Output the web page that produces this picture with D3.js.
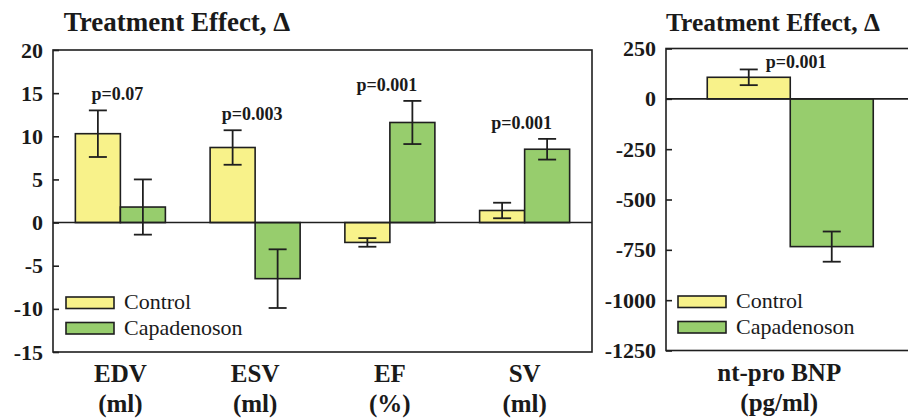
<!DOCTYPE html>
<html>
<head>
<meta charset="utf-8">
<script src="https://cdn.jsdelivr.net/npm/d3@7"></script>
<style>
  body { margin: 0; background: #fff; }
  svg { display: block; }
  text { font-family: "Liberation Serif", "Times New Roman", Times, serif; fill: #1a1a1a; }
</style>
</head>
<body>
<svg width="908" height="418"></svg>
<script>
// left panel: echo measures
const categories = ["EDV", "ESV", "EF", "SV"];
const units = ["(ml)", "(ml)", "(%)", "(ml)"];
const controlMean = [10.3, 8.7, -2.3, 1.4];
const controlErr = [2.7, 2.0, 0.5, 0.9];
const capaMean = [1.8, -6.5, 11.6, 8.5];
const capaErr = [3.2, 3.4, 2.5, 1.2];
const pLabels = ["p=0.07", "p=0.003", "p=0.001", "p=0.001"];
const leftTicks = [20, 15, 10, 5, 0, -5, -10, -15];

// right panel: nt-pro BNP
const bnpCategories = ["nt-pro BNP"];
const bnpUnits = ["(pg/ml)"];
const bnpControlMean = [107];
const bnpControlErr = [39];
const bnpCapaMean = [-734];
const bnpCapaErr = [75];
const bnpPLabels = ["p=0.001"];
const rightTicks = [250, 0, -250, -500, -750, -1000, -1250];

const groups = ["Control", "Capadenoson"];
const colors = {Control: "#f8f28a", Capadenoson: "#97cd6d"};
const ink = "#1f1f1f";

const svg = d3.select("svg");

function panel(opt) {
  const g = svg.append("g");
  const x = d3.scaleBand().domain(opt.cats).range(opt.xRange)
      .paddingInner(0.332).paddingOuter(0.166);
  const x1 = d3.scaleBand().domain(groups).range([0, x.bandwidth()]);
  const y = d3.scaleLinear().domain(opt.yDomain).range(opt.yRange);

  const rows = [];
  opt.cats.forEach((c, i) => {
    rows.push({cat: c, grp: "Control", v: opt.ctrl[i], e: opt.ctrlErr[i]});
    rows.push({cat: c, grp: "Capadenoson", v: opt.capa[i], e: opt.capaErr[i]});
  });

  // box
  g.append("rect")
    .attr("x", opt.xRange[0]).attr("y", opt.yRange[1])
    .attr("width", opt.xRange[1] - opt.xRange[0])
    .attr("height", opt.yRange[0] - opt.yRange[1])
    .attr("fill", "none").attr("stroke", ink).attr("stroke-width", 1.6);

  // bars
  g.selectAll("rect.bar").data(rows).enter().append("rect")
    .attr("class", "bar")
    .attr("x", d => x(d.cat) + x1(d.grp))
    .attr("width", x1.bandwidth())
    .attr("y", d => y(Math.max(0, d.v)))
    .attr("height", d => Math.abs(y(d.v) - y(0)))
    .attr("fill", d => colors[d.grp])
    .attr("stroke", ink).attr("stroke-width", 1.6);

  // zero line
  g.append("line")
    .attr("x1", opt.xRange[0]).attr("x2", opt.xRange[1])
    .attr("y1", y(0)).attr("y2", y(0))
    .attr("stroke", ink).attr("stroke-width", 1.6);

  // error bars
  const eb = g.selectAll("g.err").data(rows).enter().append("g")
    .attr("transform", d => `translate(${x(d.cat) + x1(d.grp) + x1.bandwidth() / 2},0)`);
  eb.append("line").attr("y1", d => y(d.v + d.e)).attr("y2", d => y(d.v - d.e))
    .attr("stroke", ink).attr("stroke-width", 1.8);
  eb.append("line").attr("x1", -9).attr("x2", 9)
    .attr("y1", d => y(d.v + d.e)).attr("y2", d => y(d.v + d.e))
    .attr("stroke", ink).attr("stroke-width", 1.8);
  eb.append("line").attr("x1", -9).attr("x2", 9)
    .attr("y1", d => y(d.v - d.e)).attr("y2", d => y(d.v - d.e))
    .attr("stroke", ink).attr("stroke-width", 1.8);

  // y axis, ticks pointing inside
  const ax = g.append("g")
    .attr("transform", `translate(${opt.xRange[0]},0)`)
    .call(d3.axisLeft(y).tickValues(opt.ticks).tickFormat(d => String(d))
      .tickSizeInner(-6).tickSizeOuter(0).tickPadding(10));
  ax.attr("font-family", null);
  ax.select(".domain").remove();
  ax.selectAll("line").attr("stroke", ink).attr("stroke-width", 1.6);
  ax.selectAll("text").attr("font-size", 22).attr("font-weight", "bold").attr("fill", ink);

  // p-values
  opt.cats.forEach((c, i) => {
    const top = Math.max(opt.ctrl[i] + opt.ctrlErr[i], opt.capa[i] + opt.capaErr[i]);
    const t = g.append("text")
      .attr("font-size", 18).attr("font-weight", "bold")
      .text(opt.p[i]);
    if (opt.pBeside) {
      t.attr("x", x(c) + x1("Control") + x1.bandwidth() / 2 + 17)
       .attr("y", y(opt.ctrl[i] + opt.ctrlErr[i]) - 1)
       .attr("text-anchor", "start");
    } else {
      t.attr("x", x(c) + x.bandwidth() / 2 - 3)
       .attr("y", y(top) - 10)
       .attr("text-anchor", "middle");
    }
  });

  // category labels
  opt.cats.forEach((c, i) => {
    const cx = x(c) + x.bandwidth() / 2 + opt.labelShift;
    g.append("text").attr("x", cx).attr("y", opt.yRange[0] + 30)
      .attr("text-anchor", "middle").attr("font-size", 25).attr("font-weight", "bold")
      .text(c);
    g.append("text").attr("x", cx).attr("y", opt.yRange[0] + 60)
      .attr("text-anchor", "middle").attr("font-size", 25).attr("font-weight", "bold")
      .text(opt.units[i]);
  });

  // title
  g.append("text").attr("x", opt.titleX).attr("y", 31)
    .attr("text-anchor", "middle").attr("font-size", opt.titleSize).attr("font-weight", "bold")
    .text("Treatment Effect, \u0394");

  // legend
  const lg = g.append("g").attr("transform", `translate(${opt.legend[0]},${opt.legend[1]})`);
  groups.forEach((k, i) => {
    lg.append("rect").attr("x", 0).attr("y", i * 25.5).attr("width", 48).attr("height", 11.5)
      .attr("fill", colors[k]).attr("stroke", ink).attr("stroke-width", 1.6);
    lg.append("text").attr("x", 58).attr("y", i * 25.5 + 12)
      .attr("font-size", 22).text(k);
  });
}

panel({
  cats: categories, units: units,
  ctrl: controlMean, ctrlErr: controlErr, capa: capaMean, capaErr: capaErr,
  p: pLabels, ticks: leftTicks,
  xRange: [53, 592], yDomain: [-15, 20], yRange: [352, 50],
  titleX: 177, titleSize: 27, legend: [66, 297], labelShift: 0, pBeside: false
});

panel({
  cats: bnpCategories, units: bnpUnits,
  ctrl: bnpControlMean, ctrlErr: bnpControlErr, capa: bnpCapaMean, capaErr: bnpCapaErr,
  p: bnpPLabels, ticks: rightTicks,
  xRange: [666, 914.5], yDomain: [-1250, 250], yRange: [350.5, 48.5],
  titleX: 773, titleSize: 25.5, legend: [678, 296], labelShift: -11, pBeside: true
});
</script>
</body>
</html>
